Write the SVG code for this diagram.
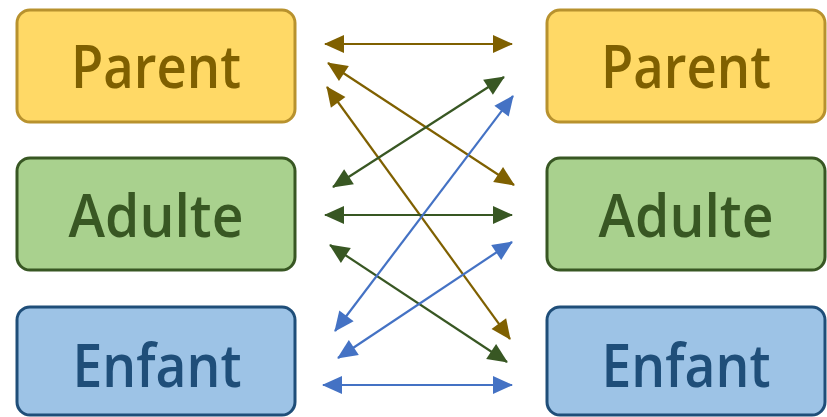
<svg xmlns="http://www.w3.org/2000/svg" width="827" height="417" viewBox="0 0 827 417">
  <style>
    .box { stroke-width: 3; }
    .lbl { font-family: "Open Sans", "Liberation Sans", sans-serif; font-size: 59px; font-weight: 600; text-anchor: middle; }
    .parent rect { fill: #FFD966; stroke: #B8922E; }
    .parent text { fill: #7F6000; }
    .adulte rect { fill: #A9D18E; stroke: #385723; }
    .adulte text { fill: #385723; }
    .enfant rect { fill: #9DC3E6; stroke: #1F4E79; }
    .enfant text { fill: #1F4E79; }
    .cn line { stroke-width: 2.2; fill: none; }
    .cb { stroke: #7F6000; marker-start: url(#hb); marker-end: url(#hb); }
    .cg { stroke: #385723; marker-start: url(#hg); marker-end: url(#hg); }
    .cl { stroke: #4472C4; marker-start: url(#hl); marker-end: url(#hl); }
  </style>
  <defs>
    <marker id="hb" markerUnits="userSpaceOnUse" markerWidth="20" markerHeight="18" refX="19" refY="9" orient="auto-start-reverse" overflow="visible">
      <path d="M0,0 L20,9 L0,18 Z" fill="#7F6000"/>
    </marker>
    <marker id="hg" markerUnits="userSpaceOnUse" markerWidth="20" markerHeight="18" refX="19" refY="9" orient="auto-start-reverse" overflow="visible">
      <path d="M0,0 L20,9 L0,18 Z" fill="#385723"/>
    </marker>
    <marker id="hl" markerUnits="userSpaceOnUse" markerWidth="20" markerHeight="18" refX="19" refY="9" orient="auto-start-reverse" overflow="visible">
      <path d="M0,0 L20,9 L0,18 Z" fill="#4472C4"/>
    </marker>
  </defs>
  <rect width="827" height="417" fill="#ffffff"/>

  <g id="parent-left" class="parent">
    <rect class="box" x="17" y="10" width="278" height="112" rx="13"/>
    <text class="lbl" x="156" y="88" textLength="170" lengthAdjust="spacingAndGlyphs">Parent</text>
  </g>
  <g id="adulte-left" class="adulte">
    <rect class="box" x="17" y="158" width="278" height="112" rx="13"/>
    <text class="lbl" x="156" y="237" textLength="175" lengthAdjust="spacingAndGlyphs">Adulte</text>
  </g>
  <g id="enfant-left" class="enfant">
    <rect class="box" x="17" y="307" width="278" height="108" rx="13"/>
    <text class="lbl" x="157" y="387" textLength="169" lengthAdjust="spacingAndGlyphs">Enfant</text>
  </g>
  <g id="parent-right" class="parent">
    <rect class="box" x="547" y="10" width="278" height="112" rx="13"/>
    <text class="lbl" x="686" y="88" textLength="170" lengthAdjust="spacingAndGlyphs">Parent</text>
  </g>
  <g id="adulte-right" class="adulte">
    <rect class="box" x="547" y="158" width="278" height="112" rx="13"/>
    <text class="lbl" x="686" y="237" textLength="175" lengthAdjust="spacingAndGlyphs">Adulte</text>
  </g>
  <g id="enfant-right" class="enfant">
    <rect class="box" x="547" y="307" width="278" height="108" rx="13"/>
    <text class="lbl" x="686" y="387" textLength="169" lengthAdjust="spacingAndGlyphs">Enfant</text>
  </g>

  <g id="connectors" class="cn">
    <line class="cb" x1="325" y1="44" x2="512" y2="44"/>
    <line class="cb" x1="328" y1="63" x2="514" y2="185"/>
    <line class="cb" x1="327" y1="87" x2="510" y2="339"/>
    <line class="cg" x1="333" y1="187" x2="504" y2="77"/>
    <line class="cg" x1="325" y1="215" x2="512" y2="215"/>
    <line class="cg" x1="330" y1="245" x2="507" y2="362"/>
    <line class="cl" x1="335" y1="331" x2="513" y2="96"/>
    <line class="cl" x1="338" y1="358" x2="512" y2="242"/>
    <line class="cl" x1="323" y1="385" x2="512" y2="385"/>
  </g>
</svg>
